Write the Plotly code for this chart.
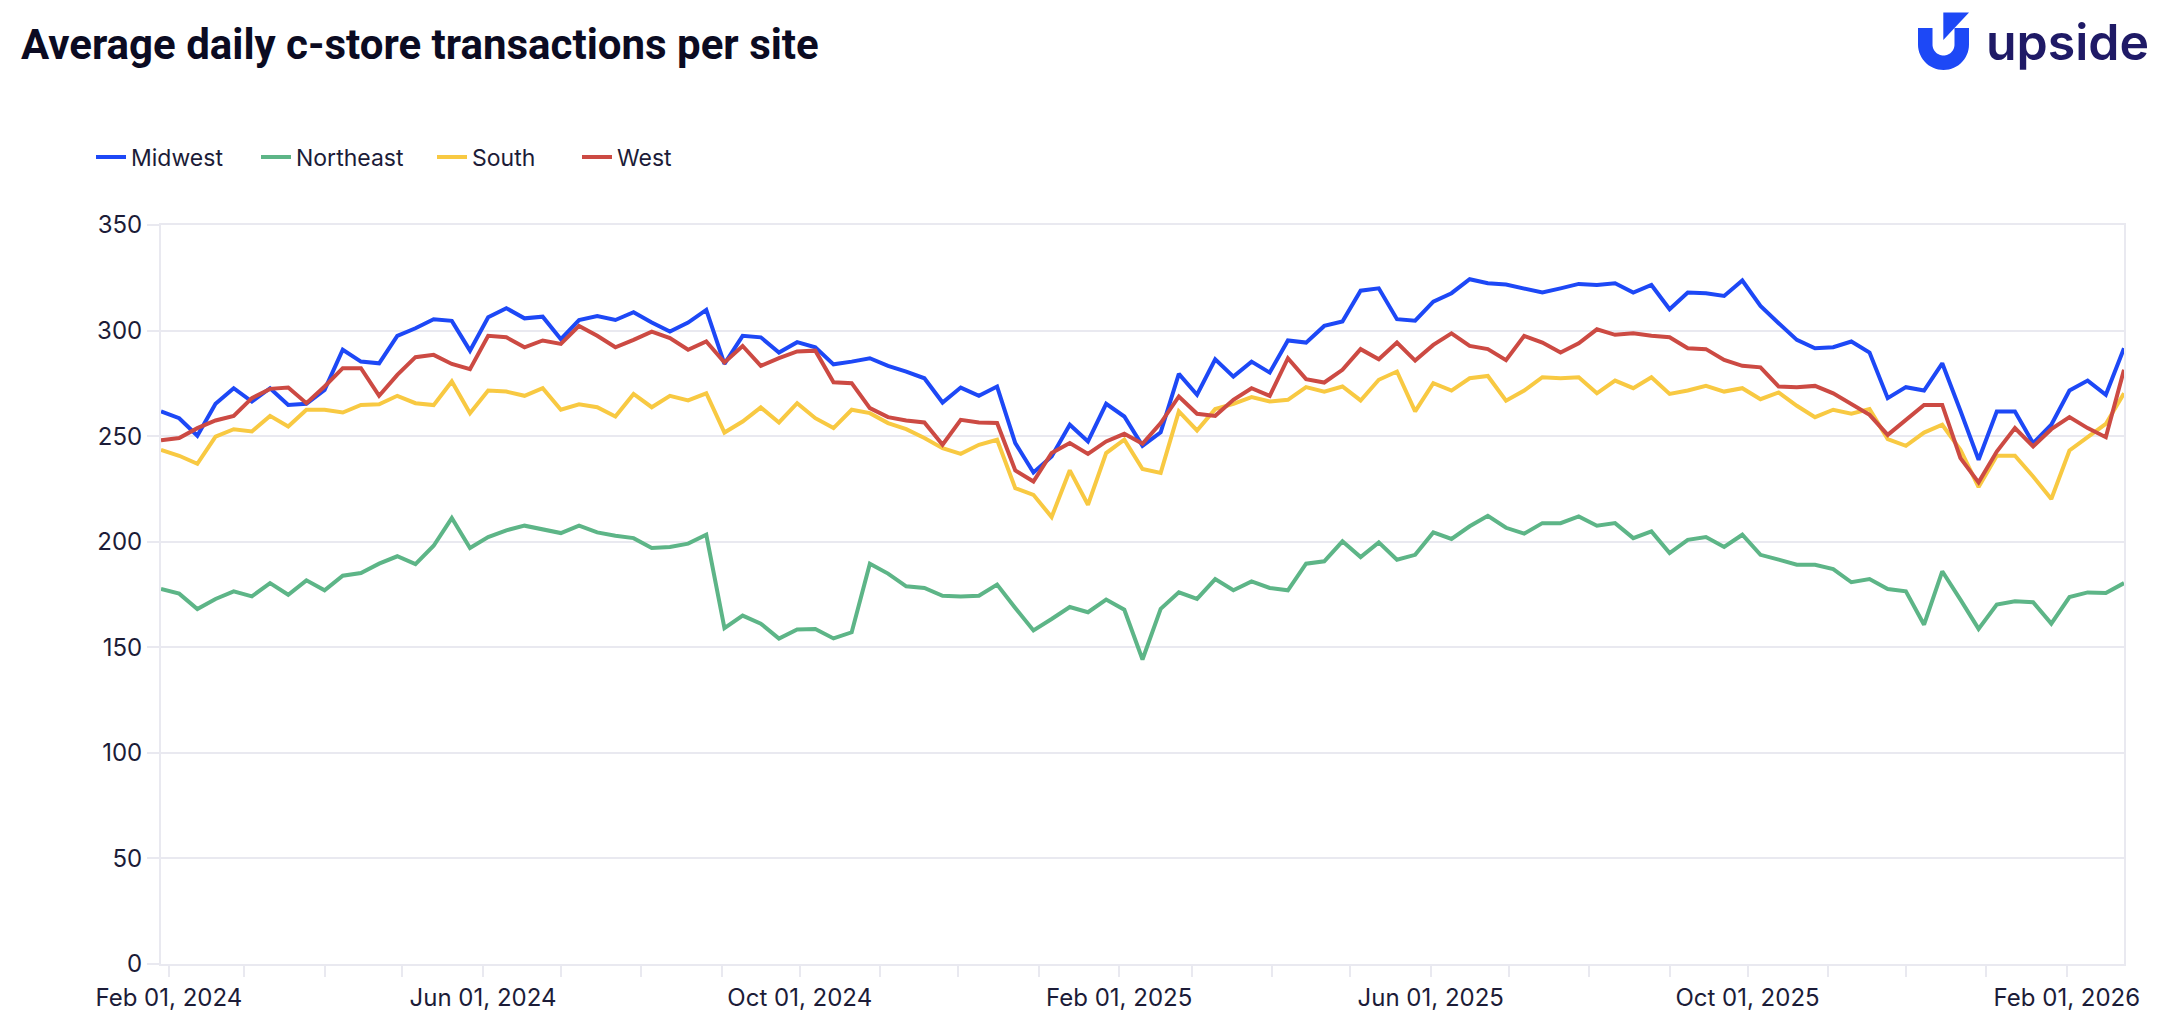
import math
import pandas as pd
import plotly.graph_objects as go

# ---------------- data ----------------
start_date = "2024-01-29"
n_weeks = 109
dates = pd.date_range(start_date, periods=n_weeks, freq="7D")

series_names = ["Midwest", "Northeast", "South", "West"]

midwest = [261.7, 258.5, 250.2, 265.3, 272.7, 266.4, 272.7, 264.8, 265.3, 271.9,
           290.9, 285.3, 284.5, 297.5, 301.1, 305.4, 304.6, 290.5, 306.3, 310.6,
           305.8, 306.6, 295.9, 305.0, 306.9, 305.0, 308.7, 303.8, 299.5, 303.8,
           309.8, 284.2, 297.5, 296.8, 289.6, 294.5, 292.1, 284.0, 285.3, 286.9,
           283.3, 280.6, 277.4, 265.9, 273.0, 269.1, 273.5, 246.7, 232.8, 240.4,
           255.4, 247.5, 265.3, 259.3, 245.4, 251.8, 279.5, 269.6, 286.4, 278.2,
           285.3, 280.1, 295.3, 294.3, 302.2, 304.3, 318.9, 320.0, 305.4, 304.7,
           313.7, 317.7, 324.3, 322.4, 321.8, 320.0, 318.0, 320.0, 322.1, 321.6,
           322.4, 318.0, 321.6, 310.1, 318.0, 317.7, 316.4, 323.7, 311.7, 303.5,
           295.6, 291.6, 292.1, 294.8, 289.6, 268.0, 273.2, 271.6, 284.5, 262.0,
           238.8, 261.7, 261.7, 246.7, 255.4, 271.6, 276.3, 269.6, 291.6]

northeast = [177.6, 175.4, 168.1, 172.9, 176.5, 174.1, 180.4, 174.9, 181.7, 177.0,
             183.9, 185.2, 189.6, 193.1, 189.4, 198.1, 211.2, 197.0, 202.2, 205.4,
             207.6, 206.0, 204.1, 207.6, 204.4, 202.8, 201.7, 197.0, 197.5, 199.1,
             203.3, 159.1, 165.0, 161.2, 154.1, 158.4, 158.7, 154.2, 157.1, 189.6,
             184.9, 178.9, 178.1, 174.4, 174.1, 174.4, 179.7, 168.6, 158.0, 163.4,
             169.1, 166.6, 172.6, 167.8, 144.2, 168.2, 176.0, 172.9, 182.3, 177.0,
             181.2, 178.1, 177.0, 189.6, 190.7, 200.2, 192.7, 199.7, 191.5, 193.8,
             204.4, 201.3, 207.3, 212.3, 206.6, 203.8, 208.8, 208.8, 212.0, 207.6,
             208.8, 201.7, 204.9, 194.6, 200.9, 202.2, 197.5, 203.3, 193.8, 191.5,
             189.1, 189.1, 187.0, 180.8, 182.3, 177.6, 176.5, 160.7, 186.0, 172.6,
             158.7, 170.2, 171.8, 171.3, 161.2, 173.8, 176.0, 175.7, 180.4]

south = [243.5, 240.7, 236.9, 249.8, 253.3, 252.2, 259.6, 254.6, 262.5, 262.5,
         261.2, 264.8, 265.1, 269.1, 265.6, 264.7, 275.9, 260.9, 271.6, 271.1,
         269.1, 272.7, 262.5, 265.1, 263.7, 259.3, 270.0, 263.7, 269.1, 266.9,
         270.3, 251.7, 256.9, 263.6, 256.5, 265.6, 258.5, 253.8, 262.5, 260.9,
         256.2, 253.3, 249.1, 244.3, 241.6, 245.9, 248.3, 225.4, 222.2, 211.7,
         233.8, 217.5, 242.0, 248.3, 234.4, 232.6, 261.7, 252.7, 262.8, 265.3,
         268.5, 266.4, 267.2, 273.2, 271.1, 273.5, 266.9, 276.7, 280.6, 261.7,
         275.1, 271.6, 277.4, 278.5, 266.8, 271.6, 277.9, 277.4, 277.9, 270.3,
         276.3, 272.7, 277.9, 270.0, 271.6, 273.8, 271.1, 272.7, 267.5, 270.7,
         264.4, 259.0, 262.5, 260.6, 262.8, 248.6, 245.4, 251.7, 255.4, 243.5,
         225.9, 240.7, 240.7, 230.9, 220.2, 243.2, 249.5, 255.8, 270.3]

west = [248.0, 249.1, 253.8, 257.4, 259.6, 268.0, 272.4, 273.0, 265.6, 273.5,
        282.2, 282.2, 269.1, 279.0, 287.4, 288.5, 284.2, 281.7, 297.5, 296.8,
        292.1, 295.3, 293.7, 302.2, 297.5, 292.1, 295.6, 299.5, 296.4, 290.9,
        294.8, 284.9, 292.7, 283.3, 286.9, 290.1, 290.5, 275.5, 275.1, 263.3,
        259.0, 257.4, 256.5, 245.9, 257.7, 256.5, 256.2, 233.8, 228.5, 242.0,
        246.7, 241.6, 247.5, 251.1, 246.4, 256.2, 268.8, 260.6, 259.6, 267.2,
        272.7, 269.1, 286.9, 277.0, 275.4, 281.4, 291.2, 286.4, 294.3, 285.8,
        293.2, 298.7, 292.7, 291.2, 286.0, 297.5, 294.3, 289.6, 294.0, 300.6,
        298.0, 298.7, 297.5, 296.8, 291.6, 291.2, 286.1, 283.3, 282.6, 273.5,
        273.2, 273.8, 270.3, 265.3, 260.1, 250.6, 257.7, 264.8, 264.8, 239.6,
        228.1, 242.7, 253.8, 245.1, 253.3, 259.0, 253.8, 249.5, 281.4]

y_ticks = [0, 50, 100, 150, 200, 250, 300, 350]
title_text = "Average daily c-store transactions per site"
logo_text = "upside"

# ---------------- style ----------------
colors = ["#1d48f6", "#5db587", "#f8c942", "#cc4a43"]
W, H = 2162, 1036
ML, MR, MT, MB = 161, 38, 225, 72
PW, PH = W - ML - MR, H - MT - MB
GRID = "#e9e9f0"
TXT = "#1c1c38"
FONT = "Inter, Roboto, sans-serif"
legend_px = [91, 256, 432, 577]


def px2paper(px, py):
    return (px - ML) / PW, (H - MB - py) / PH


fig = go.Figure()
legend_ids = ["legend", "legend2", "legend3", "legend4"]
for name, vals, col, lid in zip(series_names, [midwest, northeast, south, west], colors, legend_ids):
    fig.add_trace(go.Scatter(x=dates, y=vals, name=name, mode="lines", legend=lid,
                             line=dict(color=col, width=4)))

legend_layouts = {}
for lid, lpx in zip(legend_ids, legend_px):
    legend_layouts[lid] = dict(orientation="h", x=px2paper(lpx, 0)[0], y=px2paper(0, 157)[1],
                               xanchor="left", yanchor="middle",
                               font=dict(size=23, color=TXT), itemwidth=30,
                               bgcolor="rgba(0,0,0,0)")

fig.update_layout(
    width=W, height=H,
    margin=dict(l=ML, r=MR, t=MT, b=MB, pad=0),
    paper_bgcolor="white", plot_bgcolor="white",
    font=dict(family=FONT, size=24, color=TXT),
    showlegend=True,
    xaxis=dict(range=[dates[0], dates[-1]], showgrid=False,
               showline=True, linecolor=GRID, linewidth=2, mirror=True,
               ticks="outside", ticklen=11, tickcolor=GRID, tickwidth=2,
               tick0="2024-02-01", dtick="M4", tickformat="%b %d, %Y",
               tickfont=dict(size=24, color=TXT),
               minor=dict(dtick="M1", tick0="2024-02-01", ticks="outside",
                          ticklen=11, tickcolor=GRID, tickwidth=2, showgrid=False),
               zeroline=False),
    yaxis=dict(range=[0, 350], tickvals=y_ticks, showgrid=True, gridcolor=GRID,
               gridwidth=2, showline=True, linecolor=GRID, linewidth=2, mirror=True,
               ticks="outside", ticklen=12, tickcolor=GRID, tickwidth=2,
               tickfont=dict(size=24, color=TXT), zeroline=False),
    **legend_layouts,
)

# title
tx, ty = px2paper(19, 44)
fig.add_annotation(text="<b>" + title_text + "</b>", x=tx, y=ty, xref="paper", yref="paper",
                   xanchor="left", yanchor="middle", showarrow=False,
                   font=dict(family="Liberation Sans Narrow, Roboto, sans-serif", size=42, color="#0b0b22"))

# logo text
lx, ly = px2paper(1984, 42)
fig.add_annotation(text=logo_text, x=lx, y=ly, xref="paper", yref="paper",
                   xanchor="left", yanchor="middle", showarrow=False,
                   font=dict(family="Inter, Roboto, sans-serif", size=50, weight=600, color="#1f1a66"))

# logo icon (U with arrow)
cx, cy = 1943.5, 44.5
R, r = 25.5, 11.0
top = 28.0
pts = [(cx - R, top), (cx - R, cy)]
for k in range(0, 31):
    a = math.pi - math.pi * k / 30
    pts.append((cx + R * math.cos(a), cy + R * math.sin(a)))
pts += [(cx + R, top), (cx + r, top), (cx + r, cy)]
for k in range(0, 31):
    a = math.pi * k / 30
    pts.append((cx + r * math.cos(a), cy + r * math.sin(a)))
pts += [(cx - r, top)]
path = ""
for i, (px, py) in enumerate(pts):
    X, Y = px2paper(px, py)
    path += ("M" if i == 0 else "L") + f"{X:.5f},{Y:.5f} "
path += "Z"
fig.add_shape(type="path", path=path, xref="paper", yref="paper",
              fillcolor="#1d48f6", line=dict(width=0))
tri = [(1943.3, 12.5), (1969.0, 12.5), (1943.3, 40.0)]
tp = ""
for i, (px, py) in enumerate(tri):
    X, Y = px2paper(px, py)
    tp += ("M" if i == 0 else "L") + f"{X:.5f},{Y:.5f} "
tp += "Z"
fig.add_shape(type="path", path=tp, xref="paper", yref="paper",
              fillcolor="#1d48f6", line=dict(width=0))

fig.write_html("out.html", config={"displayModeBar": False},
               post_script="document.body.style.margin='0';document.body.style.overflow='hidden';")
